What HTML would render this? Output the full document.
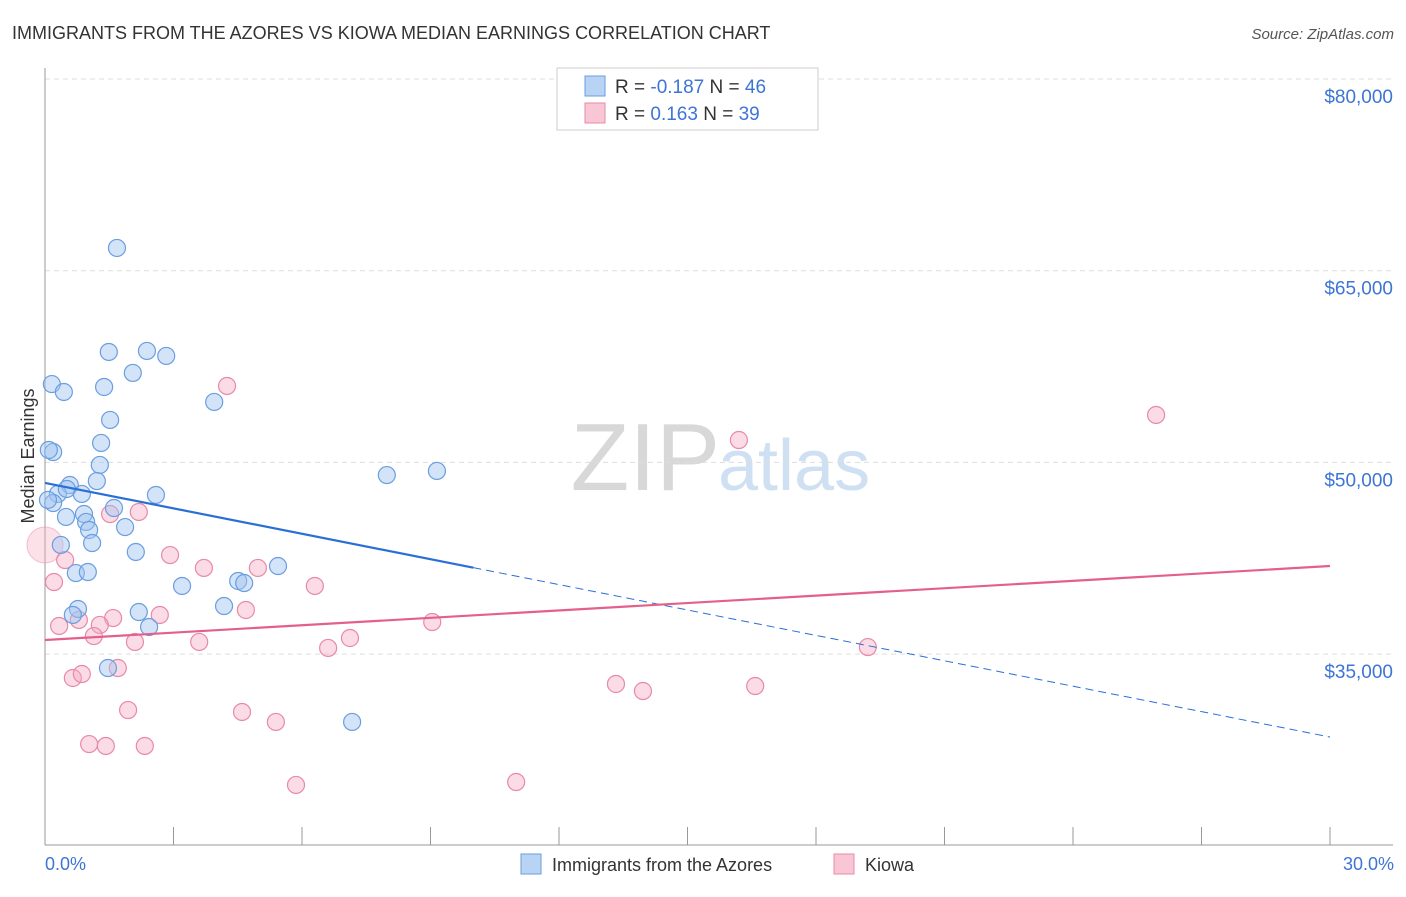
<!DOCTYPE html>
<html><head><meta charset="utf-8"><style>
body{margin:0;background:#fff;font-family:"Liberation Sans",sans-serif;}
svg text{font-family:"Liberation Sans",sans-serif;}
</style></head><body>
<svg id="chart" width="1406" height="892">
<text x="12" y="39" font-size="18" fill="#333">IMMIGRANTS FROM THE AZORES VS KIOWA MEDIAN EARNINGS CORRELATION CHART</text>
<text x="1394" y="39" font-size="15" fill="#555" text-anchor="end" font-style="italic">Source: ZipAtlas.com</text>
<text x="720" y="490" font-size="96" fill="#d8d8d8" text-anchor="end" font-family="Liberation Serif">ZIP</text>
<text x="718" y="490" font-size="72" fill="#cfe0f3">atlas</text>
<g id="grid"></g><g id="axes"></g><g id="marks"></g>
<text transform="translate(34,456) rotate(-90)" font-size="18" fill="#333" text-anchor="middle">Median Earnings</text>
<text x="45" y="870" font-size="18" fill="#3d74d6">0.0%</text>
<text x="1394" y="870" font-size="18" fill="#3d74d6" text-anchor="end">30.0%</text>
<g>
<rect x="557" y="68" width="261" height="62" fill="#fff" stroke="#ccc"/>
<rect x="585" y="76" width="20" height="20" fill="#b9d3f5" stroke="#6a9ee0"/>
<rect x="585" y="103" width="20" height="20" fill="#f9c6d5" stroke="#e889a8"/>
<text x="615" y="93" font-size="19" fill="#333">R = <tspan fill="#3d74d6">-0.187</tspan>   N = <tspan fill="#3d74d6">46</tspan></text>
<text x="615" y="120" font-size="19" fill="#333">R = <tspan fill="#3d74d6"> 0.163</tspan>   N = <tspan fill="#3d74d6">39</tspan></text>
</g>
<g>
<rect x="521" y="854" width="20" height="20" fill="#b9d3f5" stroke="#6a9ee0"/>
<text x="552" y="871" font-size="18" fill="#333">Immigrants from the Azores</text>
<rect x="834" y="854" width="20" height="20" fill="#f9c6d5" stroke="#e889a8"/>
<text x="865" y="871" font-size="18" fill="#333">Kiowa</text>
</g>
</svg>
<script>
const yTicks=[80000,65000,50000,35000];
const yTickLabels=["$80,000","$65,000","$50,000","$35,000"];
const xTicks=[0,3,6,9,12,15,18,21,24,27,30];
const blueX=[1.68,1.49,2.38,2.83,2.05,0.16,0.44,1.38,3.95,1.52,1.31,0.19,0.09,1.28,7.98,9.15,1.21,0.58,0.30,0.86,2.59,0.51,0.19,1.61,0.49,0.91,0.96,1.03,1.87,1.10,0.37,2.12,0.72,1.00,3.20,4.51,4.65,5.44,4.18,0.77,2.19,0.65,2.43,1.47,7.17,0.07];
const blueY=[66780,58640,58720,58330,57000,56130,55510,55900,54730,53320,51520,50810,50970,49800,49010,49330,48540,48230,47530,47530,47450,47920,46820,46430,45730,45960,45340,44710,44940,43690,43540,42990,41340,41420,40330,40720,40560,41890,38760,38530,38290,38060,37120,33910,29690,47060];
const pinkX=[0.21,0.47,4.25,16.20,25.94,2.19,1.52,2.92,3.71,4.97,6.30,4.69,2.68,1.59,1.28,0.33,0.79,1.14,2.10,3.60,7.12,6.61,9.04,19.21,0.65,0.86,1.70,13.33,13.96,16.58,1.94,4.60,5.39,1.03,1.42,2.33,5.86,11.00];
const pinkY=[40640,42360,55980,51750,53710,46120,45960,42750,41740,41740,40330,38450,38060,37820,37280,37200,37670,36410,35950,35950,36260,35480,37510,35550,33130,33440,33910,32660,32110,32500,30620,30470,29690,27960,27810,27810,24760,24990];
const bigPink=[0,43540];
const blueTrend=[48390,28510];
const pinkTrend=[36100,41890];
const blueSolidEnd=10;
const NS="http://www.w3.org/2000/svg";
const xS=v=>45+v/30*1285;
const yS=v=>79+(80000-v)/78.25;
function mk(parent,tag,attrs){const e=document.createElementNS(NS,tag);for(const k in attrs)e.setAttribute(k,attrs[k]);document.getElementById(parent).appendChild(e);return e;}
yTicks.forEach((t,i)=>{
 const l=mk('grid','line',{x1:45,x2:1393,y1:yS(t),y2:yS(t),stroke:'#ddd','stroke-dasharray':'5,4'});
 
 
 const tx=mk('grid','text',{x:1393,y:yS(t)+24,'font-size':19,fill:'#3d74d6','text-anchor':'end'});
 tx.textContent=yTickLabels[i];
 
 
});
let a=mk('axes','line',{x1:45,x2:45,y1:68,y2:845,stroke:'#999'});


a=mk('axes','line',{x1:45,x2:1393,y1:845,y2:845,stroke:'#999'});


xTicks.forEach(t=>{const l=mk('axes','line',{x1:xS(t),x2:xS(t),y1:827,y2:845,stroke:'#999'});
 
 });
let bp=mk('marks','circle',{cx:xS(bigPink[0]),cy:yS(bigPink[1]),r:18,fill:'rgba(246,168,192,0.35)',stroke:'rgba(232,137,168,0.5)'});


pinkX.forEach((x,i)=>{const c=mk('marks','circle',{cx:xS(x),cy:yS(pinkY[i]),r:8.5,fill:'rgba(246,168,192,0.4)',stroke:'#e889a8','stroke-width':1.2});
 
 });
blueX.forEach((x,i)=>{const c=mk('marks','circle',{cx:xS(x),cy:yS(blueY[i]),r:8.5,fill:'rgba(160,196,240,0.45)',stroke:'#6a9ee0','stroke-width':1.2});
 
 });
const bAt=x=>blueTrend[0]+(blueTrend[1]-blueTrend[0])*x/30;
let t=mk('marks','line',{x1:xS(0),y1:yS(bAt(0)),x2:xS(blueSolidEnd),y2:yS(bAt(blueSolidEnd)),stroke:'#2a6fd6','stroke-width':2.2});


t=mk('marks','line',{x1:xS(blueSolidEnd),y1:yS(bAt(blueSolidEnd)),x2:xS(30),y2:yS(bAt(30)),stroke:'#2a6fd6','stroke-width':1,'stroke-dasharray':'8,5'});


t=mk('marks','line',{x1:xS(0),y1:yS(pinkTrend[0]),x2:xS(30),y2:yS(pinkTrend[1]),stroke:'#e4608a','stroke-width':2.2});


</script>
</body></html>
